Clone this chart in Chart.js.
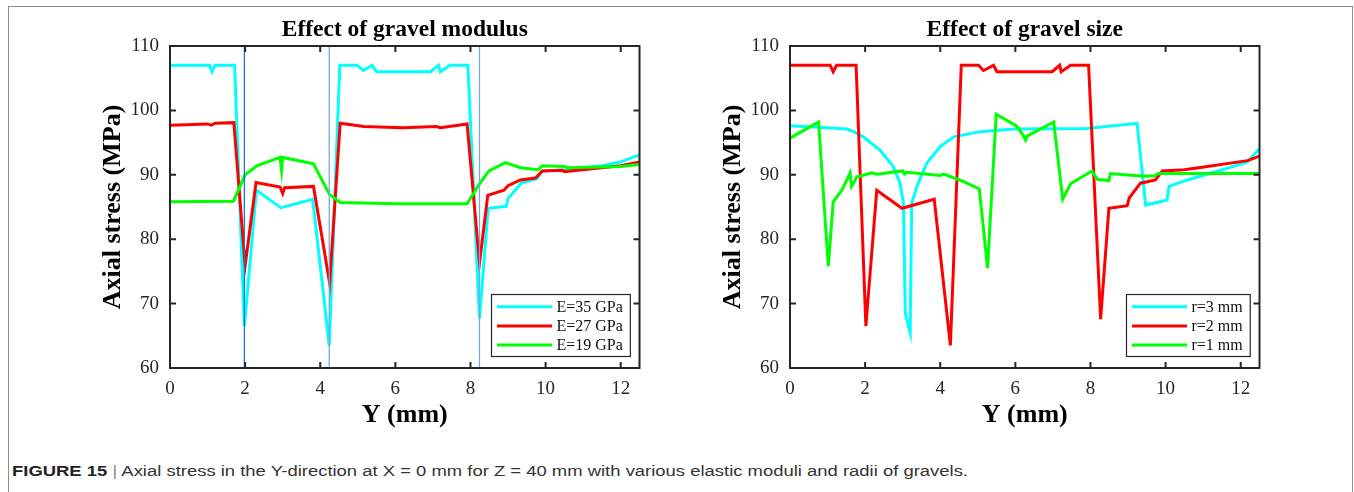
<!DOCTYPE html>
<html><head><meta charset="utf-8">
<script src="https://cdn.jsdelivr.net/npm/chart.js@4.4.1/dist/chart.umd.min.js"></script>
<style>
html,body{margin:0;padding:0;background:#fff;}
body{width:1354px;height:492px;position:relative;overflow:hidden;}
#frame{position:absolute;left:8px;top:6px;width:1345px;height:700px;border:1px solid #8c8c8c;box-sizing:border-box;}
.cw{position:absolute;top:0;width:650px;height:440px;}
#caption{position:absolute;left:12px;top:462px;font-family:"Liberation Sans",Arial,sans-serif;font-size:15.5px;color:#333;white-space:nowrap;transform-origin:0 0;}
#caption b{color:#222;}
</style></head><body>
<div id="frame"></div>
<div class="cw" style="left:0"><canvas id="c1" width="650" height="440"></canvas></div>
<div class="cw" style="left:620px"><canvas id="c2" width="650" height="440"></canvas></div>
<div id="caption"><span id="captxt"><b>FIGURE 15</b> <span style="color:#8a8a8a">|</span> Axial stress in the Y-direction at X = 0 mm for Z = 40 mm with various elastic moduli and radii of gravels.</span></div>
<script>
// ---- data ----
const xTicks = [0, 2, 4, 6, 8, 10, 12];
const yTicks = [60, 70, 80, 90, 100, 110];

const leftTitle = 'Effect of gravel modulus';
const rightTitle = 'Effect of gravel size';
const xTitle = 'Y (mm)';
const yTitle = 'Axial stress (MPa)';

const leftLabels = ['E=35 GPa', 'E=27 GPa', 'E=19 GPa'];
const rightLabels = ['r=3 mm', 'r=2 mm', 'r=1 mm'];

const e35 = [[0,107],[1.05,107],[1.12,106],[1.2,107],[1.72,107],[1.98,66.5],[2.3,87.6],[2.95,84.9],[3.8,86.2],[4.24,63.5],[4.52,107],[4.98,107],[5.15,106.2],[5.38,107],[5.5,106],[6.93,106],[7.15,107],[7.2,106],[7.45,107],[7.93,107],[8.24,67.7],[8.47,84.8],[8.95,85.1],[9.0,86.3],[9.35,88.7],[9.77,89.4],[9.92,90.6],[10.5,90.8],[11.5,91.4],[12,92],[12.5,93.1]];
const e27 = [[0,97.7],[1.0,97.9],[1.1,97.7],[1.2,98],[1.7,98.1],[2.0,75.9],[2.29,88.8],[2.93,88.1],[3.0,87.1],[3.05,88],[3.82,88.2],[4.25,73.2],[4.53,98],[5.16,97.5],[6.2,97.3],[7.1,97.5],[7.2,97.3],[7.91,97.9],[8.24,76.3],[8.46,86.8],[8.89,87.6],[9.0,88.3],[9.33,89.2],[9.73,89.5],[9.91,90.6],[10.45,90.7],[10.5,90.5],[12,91.4],[12.5,92]];
const e19 = [[0,85.8],[1.69,85.9],[2.0,90],[2.31,91.4],[2.93,92.7],[2.97,90.7],[3.0,92.7],[3.82,91.7],[4.24,87.0],[4.53,85.7],[6.0,85.5],[7.91,85.5],[8.24,88.6],[8.49,90.6],[8.93,91.9],[9.33,91.1],[9.8,90.8],[9.91,91.4],[10.5,91.3],[10.6,91.1],[12,91.3],[12.5,91.6]];
const gravelEdges = [1.98, 4.24, 8.24];

const r3 = [[0,97.6],[1.0,97.3],[1.51,97.1],[1.69,96.7],[1.95,95.9],[2.4,93.8],[2.75,91.3],[2.93,88.7],[3.02,85.6],[3.07,68.5],[3.2,65.5],[3.24,85.6],[3.38,88.2],[3.64,91.8],[4.0,94.4],[4.36,95.9],[5.07,96.7],[5.96,97.1],[7.9,97.2],[9.24,98.0],[9.47,85.3],[10.04,86.1],[10.09,88.2],[10.58,89.2],[11.47,90.7],[12.18,92],[12.5,94.1]];
const r2 = [[0,107],[1.07,107],[1.15,106],[1.24,107],[1.76,107],[2.02,66.5],[2.31,87.6],[2.98,84.8],[3.84,86.2],[4.27,63.5],[4.56,107],[5.02,107],[5.15,106.2],[5.42,107],[5.51,106],[6.98,106],[7.18,107],[7.22,106],[7.47,107],[7.95,107],[8.27,67.6],[8.49,84.8],[8.98,85.2],[9.03,86.4],[9.33,88.7],[9.73,89.2],[9.91,90.6],[10.49,90.8],[11.02,91.2],[12.18,92.2],[12.5,92.9]];
const r1 = [[0,95.7],[0.76,98.2],[1.02,75.8],[1.15,85.8],[1.38,87.6],[1.6,90.3],[1.64,88.2],[1.78,89.7],[2.0,90],[2.18,90.3],[2.3,90.1],[3.0,90.6],[3.05,90.1],[3.1,90.4],[4.0,89.9],[4.09,90.1],[4.6,89],[5.04,87.8],[5.26,75.5],[5.49,99.4],[6.03,97.6],[6.2,96.2],[6.27,95.4],[6.31,96],[7.02,98.2],[7.26,86.2],[7.47,88.6],[8.04,90.6],[8.18,89.3],[8.49,89.1],[8.53,90.2],[9.16,89.9],[9.4,89.8],[9.7,89.8],[9.8,90.2],[12.5,90.2]];

// ---- styles ----
const seriesColors = ['#00FFFF', '#FF0000', '#00FF00'];
const edgeColors = ['#1a73d6', '#74aadf', '#74aadf'];
const SERIF = '"Liberation Serif", "Times New Roman", serif';

const toXY = arr => arr.map(p => ({x: p[0], y: p[1]}));

const axesBox = {
  id: 'axesBox',
  afterDatasetsDraw(chart) {
    const {ctx, chartArea: a, scales: {x, y}} = chart;
    ctx.save();
    ctx.strokeStyle = '#262626';
    ctx.lineWidth = 2;
    ctx.beginPath();
    x.ticks.forEach(t => {
      const px = x.getPixelForValue(t.value);
      ctx.moveTo(px, a.bottom); ctx.lineTo(px, a.bottom - 6);
      ctx.moveTo(px, a.top); ctx.lineTo(px, a.top + 6);
    });
    y.ticks.forEach(t => {
      const py = y.getPixelForValue(t.value);
      ctx.moveTo(a.left, py); ctx.lineTo(a.left + 6, py);
      ctx.moveTo(a.right, py); ctx.lineTo(a.right - 6, py);
    });
    ctx.stroke();
    ctx.strokeRect(a.left, a.top, a.right - a.left, a.bottom - a.top);

    // legend
    const items = chart.data.datasets.filter(d => !d.isEdge);
    ctx.font = '16px ' + SERIF;
    const tw = Math.max(...items.map(d => ctx.measureText(d.label).width));
    const lineLen = 55, padL = 6, gap = 4.5, padR = 7, rowH = 19.2;
    const bw = padL + lineLen + gap + tw + padR, bh = 62;
    const bx = Math.round(a.right - 10 - bw), by = Math.round(a.bottom - 12 - bh);
    ctx.fillStyle = '#fff';
    ctx.fillRect(bx, by, bw, bh);
    ctx.lineWidth = 1.2;
    ctx.strokeStyle = '#262626';
    ctx.strokeRect(bx + 0.5, by + 0.5, bw, bh);
    items.forEach((d, i) => {
      const cy = by + 12.7 + i * rowH;
      ctx.strokeStyle = d.borderColor;
      ctx.lineWidth = 3;
      ctx.beginPath();
      ctx.moveTo(bx + padL, cy); ctx.lineTo(bx + padL + lineLen, cy);
      ctx.stroke();
      ctx.fillStyle = '#111';
      ctx.textBaseline = 'middle';
      ctx.textAlign = 'left';
      ctx.fillText(d.label, bx + padL + lineLen + gap, cy + 1);
    });
    ctx.restore();
  }
};

function makeChart(id, title, labels, series, edges) {
  const datasets = series.map((s, i) => ({
    label: labels[i],
    data: toXY(s),
    borderColor: seriesColors[i],
    backgroundColor: seriesColors[i],
    borderWidth: 3,
    pointRadius: 0,
    tension: 0,
    fill: false,
    order: 3 - i
  }));
  edges.forEach((e, i) => {
    datasets.push({
      label: 'edge' + i,
      isEdge: true,
      data: [{x: e, y: yTicks[0]}, {x: e, y: yTicks[yTicks.length - 1]}],
      borderColor: edgeColors[i],
      borderWidth: 1.3,
      pointRadius: 0,
      fill: false,
      order: 0
    });
  });
  return new Chart(document.getElementById(id), {
    type: 'line',
    data: {datasets},
    plugins: [axesBox],
    options: {
      responsive: false,
      animation: false,
      events: [],
      layout: {padding: {left: 0, right: 10.5, top: 0, bottom: 0}},
      plugins: {
        legend: {display: false},
        tooltip: {enabled: false},
        title: {
          display: true, text: title, fullSize: false, color: '#000',
          font: {family: SERIF, size: 23.5, weight: 'bold'},
          padding: {top: 15.9, bottom: 1.9}
        }
      },
      scales: {
        x: {
          type: 'linear', min: 0, max: 12.5,
          afterBuildTicks: s => { s.ticks = xTicks.map(v => ({value: v})); },
          afterFit: s => { s.height = 72; },
          grid: {display: false, drawTicks: false},
          border: {display: false},
          ticks: {font: {family: SERIF, size: 19}, color: '#262626', padding: 9.6, maxRotation: 0, autoSkip: false},
          title: {display: true, text: xTitle, color: '#000', font: {family: SERIF, size: 26, weight: 'bold'}, padding: {top: 0, bottom: 9.4}}
        },
        y: {
          type: 'linear', min: 60, max: 110,
          afterBuildTicks: s => { s.ticks = yTicks.map(v => ({value: v})); },
          afterFit: s => { s.width = 170; },
          grid: {display: false, drawTicks: false},
          border: {display: false},
          ticks: {font: {family: SERIF, size: 19}, color: '#262626', padding: 11, autoSkip: false},
          title: {display: true, text: yTitle, color: '#000', font: {family: SERIF, size: 26, weight: 'bold'}, padding: {top: 97.4, bottom: 0}}
        }
      }
    }
  });
}

makeChart('c1', leftTitle, leftLabels, [e35, e27, e19], gravelEdges);
makeChart('c2', rightTitle, rightLabels, [r3, r2, r1], []);

// fit caption width to reference
const cap = document.getElementById('captxt');
const w = cap.getBoundingClientRect().width;
document.getElementById('caption').style.transform = 'scaleX(' + (956 / w) + ')';
</script>
</body></html>
